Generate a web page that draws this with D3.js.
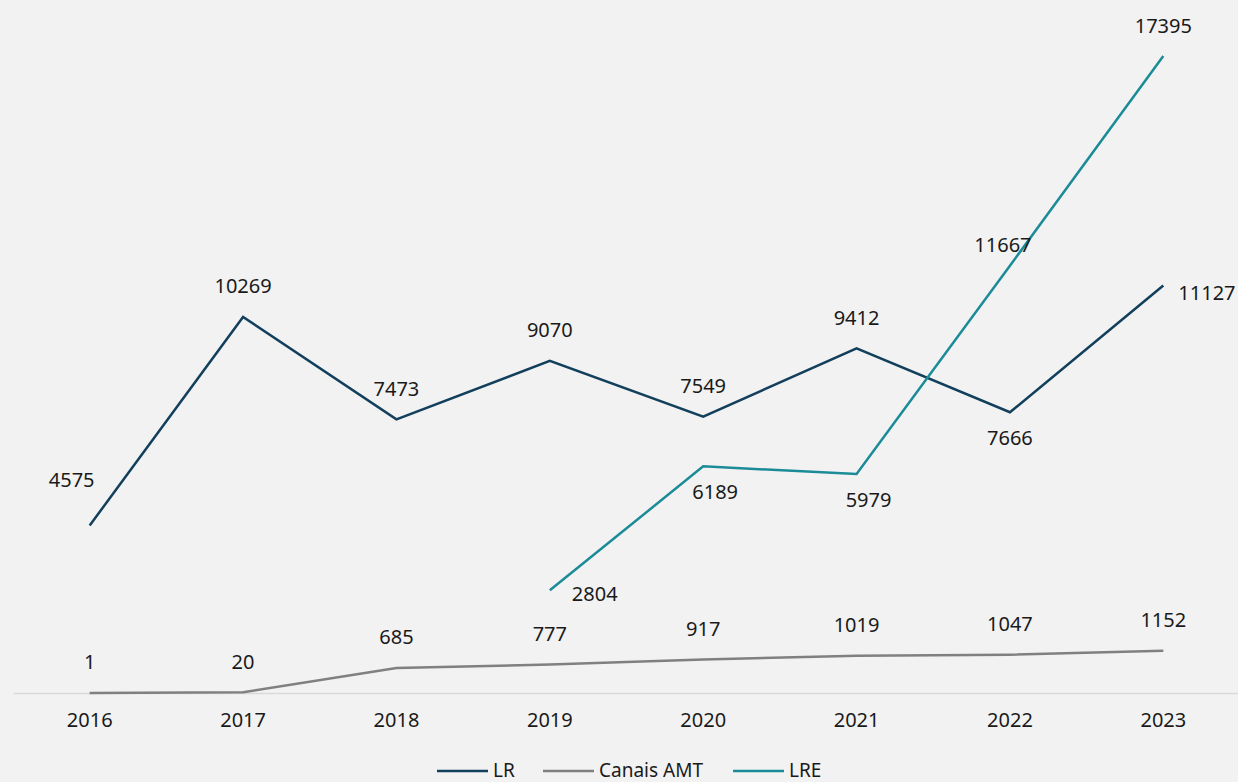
<!DOCTYPE html>
<html>
<head>
<meta charset="utf-8">
<script src="https://cdn.jsdelivr.net/npm/d3@7"></script>
<style>
  body { margin: 0; background: #f2f2f2; }
  svg { display: block; font-family: "Noto Sans", "Open Sans", sans-serif; }
</style>
</head>
<body>
<svg id="chart"></svg>
<script>
const width = 1238;
const height = 782;

const years = ["2016", "2017", "2018", "2019", "2020", "2021", "2022", "2023"];
const lrValues = [4575, 10269, 7473, 9070, 7549, 9412, 7666, 11127];
const amtValues = [1, 20, 685, 777, 917, 1019, 1047, 1152];
const lreValues = [null, null, null, 2804, 6189, 5979, 11667, 17395];

const lrLabelPos = ["aboveLeft", "above", "above", "above", "above", "above", "below", "rightNear"];
const amtLabelPos = ["above", "above", "above", "above", "above", "above", "above", "above"];
const lreLabelPos = [null, null, null, "right", "belowRight", "belowRight", "aboveNear", "above"];

const series = [
  { name: "LR", values: lrValues, pos: lrLabelPos, color: "#123f5c" },
  { name: "Canais AMT", values: amtValues, pos: amtLabelPos, color: "#808080" },
  { name: "LRE", values: lreValues, pos: lreLabelPos, color: "#1b8b98" }
];

const svg = d3.select("#chart")
  .attr("width", width)
  .attr("height", height);

svg.append("rect")
  .attr("width", width)
  .attr("height", height)
  .attr("fill", "#f2f2f2");

const x = d3.scaleBand()
  .domain(years)
  .range([13, 1240]);

const y = d3.scaleLinear()
  .domain([0, 17395])
  .range([693, 56]);

const xAxis = d3.axisBottom(x)
  .tickSize(0)
  .tickPadding(20);

const axisG = svg.append("g")
  .attr("transform", `translate(0,${y(0)})`)
  .call(xAxis);

axisG.select(".domain")
  .attr("stroke", "#d9d9d9")
  .attr("stroke-width", 1.5);

axisG.selectAll("text")
  .attr("font-size", "20px")
  .attr("fill", "#1a1a1a")
  .attr("font-family", "\"Noto Sans\", sans-serif");

const cx = (d, i) => x(years[i]) + x.bandwidth() / 2;

const line = d3.line()
  .defined(d => d != null)
  .x(cx)
  .y(d => y(d));

series.forEach(s => {
  svg.append("path")
    .datum(s.values)
    .attr("fill", "none")
    .attr("stroke", s.color)
    .attr("stroke-width", 2.5)
    .attr("d", line);
});

// label placement offsets
const offsets = {
  above: { dx: 0, dy: -31, anchor: "middle" },
  aboveLeft: { dx: -18, dy: -46, anchor: "middle" },
  aboveNear: { dx: -7, dy: -21, anchor: "middle" },
  below: { dx: 0, dy: 25, anchor: "middle" },
  belowRight: { dx: 12, dy: 25, anchor: "middle" },
  right: { dx: 22, dy: 3, anchor: "start" },
  rightNear: { dx: 15, dy: 7, anchor: "start" }
};

series.forEach(s => {
  const pts = s.values.map((v, i) => ({ v, i })).filter(d => d.v != null);
  svg.append("g")
    .selectAll("text")
    .data(pts)
    .join("text")
    .attr("x", d => cx(d.v, d.i) + offsets[s.pos[d.i]].dx)
    .attr("y", d => y(d.v) + offsets[s.pos[d.i]].dy)
    .attr("text-anchor", d => offsets[s.pos[d.i]].anchor)
    .attr("dominant-baseline", "central")
    .attr("font-size", "20px")
    .attr("fill", "#1a1a1a")
    .text(d => d.v);
});

// legend
const legendItems = [
  { name: "LR", color: "#123f5c", x: 437 },
  { name: "Canais AMT", color: "#808080", x: 543 },
  { name: "LRE", color: "#1b8b98", x: 733 }
];

const legend = svg.append("g");
const item = legend.selectAll("g")
  .data(legendItems)
  .join("g")
  .attr("transform", d => `translate(${d.x},770)`);

item.append("line")
  .attr("x1", 0)
  .attr("x2", 51)
  .attr("y1", 1)
  .attr("y2", 1)
  .attr("stroke", d => d.color)
  .attr("stroke-width", 2.5);

item.append("text")
  .attr("x", 56)
  .attr("dominant-baseline", "central")
  .attr("font-size", "19px")
  .attr("fill", "#1a1a1a")
  .text(d => d.name);
</script>
</body>
</html>
